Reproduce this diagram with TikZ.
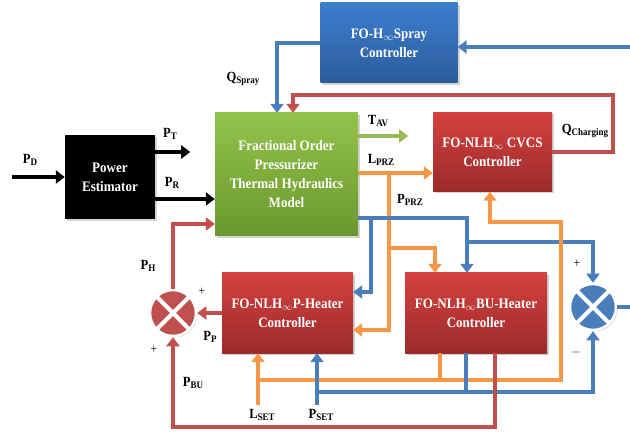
\documentclass[tikz,border=0pt]{standalone}
\usepackage{fontspec}
\setmainfont{Liberation Serif}[FakeStretch=0.9]
\usetikzlibrary{arrows.meta,shadows,calc}
\definecolor{lblue}{HTML}{4A7EBB}
\definecolor{lred}{HTML}{C0504D}
\definecolor{lorange}{HTML}{F79646}
\definecolor{lgreen}{HTML}{9BBB59}
\definecolor{sprayTop}{HTML}{3C7ECF}
\definecolor{sprayBot}{HTML}{2C5C9C}
\definecolor{greenTop}{HTML}{93C24B}
\definecolor{greenBot}{HTML}{6B982D}
\definecolor{redTop}{HTML}{D3423E}
\definecolor{redBot}{HTML}{9C2A2B}
\newcommand\lbl[2]{#1\raisebox{-0.3ex}{\fontsize{10}{10}\selectfont #2}}
\begin{document}
\begin{tikzpicture}[x=1pt,y=-1pt,
  boxtext/.style={font=\bfseries\fontsize{14.5}{19}\selectfont, text=white, align=center, inner sep=2pt,
    drop shadow={shadow xshift=2pt,shadow yshift=-2pt,opacity=0.35}},
  bluebox/.style={boxtext, top color=sprayTop, bottom color=sprayBot},
  greenbox/.style={boxtext, top color=greenTop, bottom color=greenBot},
  redbox/.style={boxtext, top color=redTop, bottom color=redBot},
  blackbox/.style={boxtext, fill=black},
  sumnode/.style={circle, minimum size=46pt, inner sep=0pt, draw=white, line width=2.5pt,
    drop shadow={shadow xshift=1.5pt,shadow yshift=-1.5pt,opacity=0.3}},
  tip/.style={-{Triangle[width=13pt,length=9pt]}},
  wire/.style={line width=4.5pt},
  bl/.style={wire, lblue, tip}, blplain/.style={wire, lblue},
  rdl/.style={wire, lred, tip},
  org/.style={wire, lorange, tip}, orgplain/.style={wire, lorange},
  grl/.style={wire, lgreen, tip},
  blk/.style={wire, black, tip},
  lab/.style={font=\bfseries\fontsize{14}{16}\selectfont, inner sep=1pt},
  sgn/.style={font=\fontsize{13}{13}\selectfont, inner sep=1pt}
]
\useasboundingbox (0,0) rectangle (630,433);

% boxes
\node[bluebox, minimum width=137pt, minimum height=80pt] (spray) at (389,43) {FO-H$_\infty$Spray\\Controller};
\node[greenbox, minimum width=143pt, minimum height=123pt] (model) at (286.5,174.5) {Fractional Order\\Pressurizer\\Thermal Hydraulics\\Model};
\node[blackbox, minimum width=90pt, minimum height=84pt] (pe) at (110,177) {Power\\Estimator};
\node[redbox, minimum width=119pt, minimum height=79pt] (cvcs) at (492.5,152) {FO-NLH$_\infty$ CVCS\\Controller};
\node[redbox, minimum width=131pt, minimum height=80pt] (ph) at (287.5,313) {FO-NLH$_\infty$P-Heater\\Controller};
\node[redbox, minimum width=142pt, minimum height=80pt] (bu) at (476,313) {FO-NLH$_\infty$BU-Heater\\Controller};

% summing junctions
\node[sumnode, fill=lred] (sumL) at (173,313) {};
\draw[white, line width=4pt] (sumL.45) -- (sumL.225) (sumL.135) -- (sumL.315);
\node[sumnode, fill=lblue] (sumR) at (593,307) {};
\draw[white, line width=4pt] (sumR.45) -- (sumR.225) (sumR.135) -- (sumR.315);

% free ends
\coordinate (pdin) at (12,177);
\coordinate (sprin) at (630,47);
\coordinate (sout) at (630,307);
\coordinate (lset) at (258,405);
\coordinate (pset) at (317,405);
\coordinate (prs) at ([yshift=-22pt]pe.east);
\coordinate (tav) at (model.east |- 0,136);
\coordinate (lprz) at (model.east |- 0,173);
\coordinate (pprz) at (model.east |- 0,218);

% power estimator
\draw[blk] (pdin) -- (pe.west);
\draw[blk] ([yshift=25pt]pe.east) -- ++(35,0);
\draw[blk] (prs) -- (prs -| model.west);

% spray loop
\draw[bl] (sprin) -- (sprin -| spray.east);
\draw[bl] (spray.west) -| ([xshift=-9.5pt]model.north);

% charging loop
\draw[rdl] (cvcs.east) -| (613,95) -| ([xshift=6.5pt]model.north);

% model outputs
\draw[grl] (tav) -- ++(50,0);
\draw[org] (lprz) -- (lprz -| cvcs.west);
\draw[org] (389,173) |- (ph.east |- 0,330);
\draw[org] (389,248) -| ([xshift=-41pt]bu.north);
\draw[bl] (pprz) -| ([xshift=-9pt]bu.north);
\draw[bl] (371,218) |- (ph.east |- 0,292);
\draw[bl] (467,242) -| (sumR.north);

% set points and feedback
\draw[orgplain] ([xshift=-36pt]bu.south) -- ++(0,28);
\draw[org] (258,380) -- (561,380) -- (561,222) -| ([xshift=-2.5pt]cvcs.south);
\draw[org] (lset) -- (lset |- ph.south);
\draw[blplain] ([xshift=-10pt]bu.south) -- ++(0,39);
\draw[bl] (317,392) -| (sumR.south);
\draw[bl] (pset) -- (pset |- ph.south);
\draw[rdl] ([xshift=19pt]bu.south) -- ++(0,74) -| (sumL.south);
\draw[rdl] (ph.west) -- (sumL.east);
\draw[rdl] (sumL.north) |- (model.west |- 0,224);
\draw[blplain] (sumR.east) -- (sout);

% labels
\node[lab] (lPD) at (30,160) {\lbl{P}{D}};
\node[lab] (lPT) at (170,134) {\lbl{P}{T}};
\node[lab] (lPR) at (172,183) {\lbl{P}{R}};
\node[lab] (lQS) at (243,79) {\lbl{Q}{Spray}};
\node[lab] (lTAV) at (378,121) {\lbl{T}{AV}};
\node[lab] (lLPRZ) at (381,160) {\lbl{L}{PRZ}};
\node[lab] (lPPRZ) at (410,200) {\lbl{P}{PRZ}};
\node[lab] (lQC) at (585,131) {\lbl{Q}{Charging}};
\node[lab] (lPH) at (148,266) {\lbl{P}{H}};
\node[lab] (lPP) at (210,337) {\lbl{P}{P}};
\node[lab] (lPBU) at (193,383) {\lbl{P}{BU}};
\node[lab] (lLSET) at (262,415) {\lbl{L}{SET}};
\node[lab] (lPSET) at (321,415) {\lbl{P}{SET}};
\node[sgn] (s1) at (202,292) {+};
\node[sgn] (s2) at (154,350) {+};
\node[sgn] (s3) at (577,264) {+};
\node[sgn] (s4) at (576,352) {$-$};
\end{tikzpicture}
\end{document}
